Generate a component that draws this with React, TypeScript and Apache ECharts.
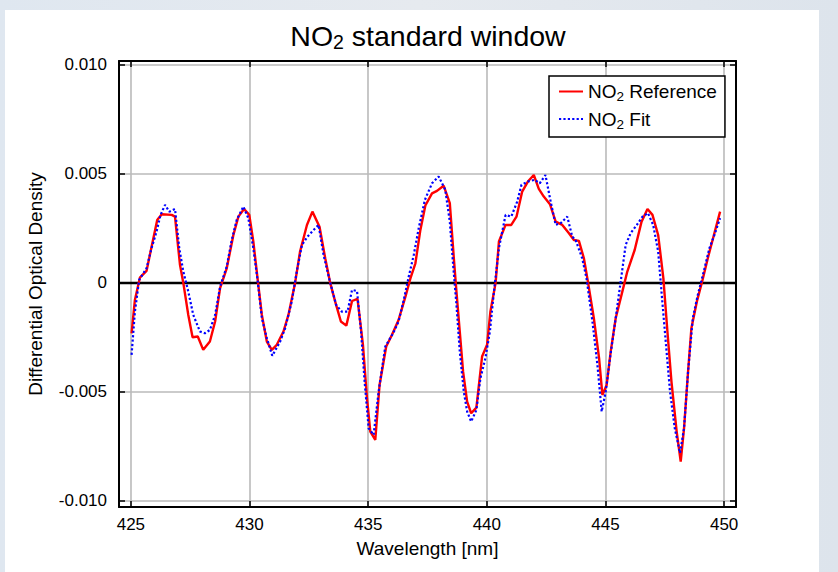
import React, { useEffect, useRef } from "react";
import * as echarts from "echarts";

// NO2 Reference (red, solid)
const refWavelength = [
  425.03, 425.17, 425.38, 425.66, 426.11, 426.3, 426.72, 426.86, 427.07, 427.21,
  427.42, 427.6, 427.82, 428.05, 428.33, 428.55, 428.76, 429.04, 429.32, 429.53,
  429.77, 429.99, 430.16, 430.37, 430.52, 430.73, 430.94, 431.15, 431.43, 431.64,
  431.92, 432.13, 432.42, 432.65, 432.95, 433.19, 433.4, 433.61, 433.85, 434.08,
  434.32, 434.55, 434.78, 434.95, 435.09, 435.3, 435.48, 435.76, 436.0, 436.28,
  436.57, 436.78, 436.99, 437.2, 437.41, 437.69, 437.9, 438.18, 438.44, 438.61,
  438.72, 438.86, 439.0, 439.17, 439.34, 439.56, 439.8, 440.01, 440.15, 440.37,
  440.51, 440.79, 441.03, 441.25, 441.49, 441.73, 441.98, 442.19, 442.4, 442.66,
  442.9, 443.18, 443.46, 443.67, 443.88, 444.09, 444.26, 444.51, 444.73, 444.87,
  445.05, 445.22, 445.43, 445.71, 445.92, 446.23, 446.52, 446.77, 446.98, 447.22,
  447.44, 447.61, 447.78, 448.0, 448.17, 448.31, 448.48, 448.62, 448.85, 449.09,
  449.33, 449.55, 449.83,
];
const refDensity = [
  -0.00231, -0.00078, 0.00024, 0.00055, 0.00289, 0.00315, 0.00312, 0.00304, 0.00083, 0.0,
  -0.00147, -0.00249, -0.00246, -0.00307, -0.00269, -0.00177, -0.00024, 0.00067, 0.0022, 0.00304,
  0.00339, 0.00312, 0.0019, -0.00009, -0.00147, -0.00269, -0.00307, -0.00284, -0.00223, -0.00147,
  0.0, 0.00144, 0.00266, 0.00327, 0.00258, 0.00113, 0.0, -0.00086, -0.00177, -0.00196,
  -0.00083, -0.00073, -0.00284, -0.00529, -0.00682, -0.0072, -0.00468, -0.00292, -0.00239, -0.0017,
  -0.00063, 0.00021, 0.0009, 0.00243, 0.00355, 0.00411, 0.00422, 0.00446, 0.00366, 0.00113,
  -0.0004, -0.00223, -0.00407, -0.00545, -0.00598, -0.00572, -0.00338, -0.00284, -0.00132, 0.0,
  0.0019, 0.00266, 0.00266, 0.00304, 0.00419, 0.00465, 0.00495, 0.00431, 0.00396, 0.00361,
  0.00281, 0.00266, 0.00228, 0.00197, 0.00193, 0.00113, 0.00006, -0.00162, -0.00345, -0.00514,
  -0.00468, -0.00315, -0.00162, -0.0004, 0.00052, 0.00151, 0.00281, 0.00339, 0.00312, 0.0022,
  0.00021, -0.00223, -0.00453, -0.00682, -0.0082, -0.00667, -0.00407, -0.00208, -0.00086, 0.00014,
  0.00121, 0.00212, 0.00327,
];

// NO2 Fit (blue, dotted)
const fitWavelength = [
  425.03, 425.17, 425.35, 425.66, 425.87, 426.08, 426.25, 426.44, 426.62, 426.86,
  427.04, 427.21, 427.42, 427.63, 427.91, 428.12, 428.33, 428.55, 428.76, 429.04,
  429.25, 429.46, 429.74, 429.95, 430.16, 430.33, 430.52, 430.73, 430.96, 431.29,
  431.5, 431.78, 431.99, 432.21, 432.44, 432.7, 432.91, 433.12, 433.37, 433.65,
  433.89, 434.13, 434.32, 434.53, 434.7, 434.85, 435.02, 435.23, 435.44, 435.72,
  436.05, 436.28, 436.5, 436.71, 436.92, 437.13, 437.39, 437.69, 437.97, 438.25,
  438.44, 438.58, 438.72, 438.86, 439.03, 439.17, 439.34, 439.56, 439.73, 439.94,
  440.13, 440.3, 440.51, 440.79, 441.03, 441.28, 441.46, 441.73, 442.01, 442.23,
  442.47, 442.69, 442.9, 443.11, 443.39, 443.6, 443.74, 444.02, 444.2, 444.45,
  444.66, 444.84, 445.01, 445.19, 445.43, 445.64, 445.85, 446.06, 446.32, 446.56,
  446.79, 447.01, 447.22, 447.36, 447.55, 447.72, 447.92, 448.14, 448.31, 448.48,
  448.68, 448.89, 449.14, 449.38, 449.59, 449.83,
];
const fitDensity = [
  -0.0033, -0.00132, 0.00014, 0.00067, 0.00159, 0.00235, 0.00312, 0.00358, 0.00327, 0.00339,
  0.00159, 0.00052, -0.0004, -0.00147, -0.00223, -0.00231, -0.00216, -0.00147, -0.00017, 0.00075,
  0.00197, 0.00289, 0.0035, 0.00297, 0.00159, 0.00021, -0.00162, -0.00254, -0.00334, -0.00269,
  -0.00208, -0.00086, 0.00052, 0.00174, 0.00212, 0.00243, 0.00266, 0.00128, 0.00014, -0.00101,
  -0.00132, -0.00132, -0.00032, -0.00037, -0.00223, -0.00453, -0.00667, -0.00697, -0.00499, -0.00292,
  -0.00231, -0.00177, -0.00078, 0.00029, 0.00128, 0.00251, 0.00381, 0.00457, 0.00488, 0.00427,
  0.00281, 0.00083, -0.00101, -0.00315, -0.00499, -0.0059, -0.00636, -0.00583, -0.00437, -0.00345,
  -0.00223, -0.0004, 0.00159, 0.00312, 0.00304, 0.00373, 0.0045, 0.00465, 0.00473, 0.00457,
  0.00495, 0.00373, 0.00266, 0.00274, 0.00304, 0.00212, 0.00197, 0.00113, 0.00021, -0.00177,
  -0.00376, -0.0059, -0.00499, -0.00345, -0.00162, 0.00006, 0.00174, 0.00228, 0.00266, 0.00304,
  0.0032, 0.00266, 0.00144, -0.0004, -0.00284, -0.00499, -0.00667, -0.0078, -0.00667, -0.00407,
  -0.00162, -0.00055, 0.00052, 0.00159, 0.0022, 0.00297,
];

const xTicks = [425, 430, 435, 440, 445, 450];
const yTicks = [-0.01, -0.005, 0, 0.005, 0.01];
const xRange = [424.5, 450.5];
const yRange = [-0.01028, 0.01018];
const seriesNames = ["NO2 Reference", "NO2 Fit"];
const titleText = "NO2 standard window";
const xName = "Wavelength [nm]";
const yName = "Differential Optical Density";

const FONT = "'Liberation Sans', Arial, Helvetica, sans-serif";

function sub(s: string): string {
  // turn "NO2 ..." into rich text with subscript 2
  return s.replace(/^NO2(.*)$/, (_m, rest) => `{n|NO}{s|2}{n|${rest}}`);
}

function zip(xs: number[], ys: number[]): number[][] {
  return xs.map((x, i) => [x, ys[i]]);
}

export default function App() {
  const ref = useRef<HTMLDivElement>(null);

  useEffect(() => {
    if (!ref.current) return;
    const chart = echarts.init(ref.current, null, { renderer: "svg" });

    const frameLine = { show: true, onZero: false, lineStyle: { color: "#000", width: 2 } };
    const tickStyle = { show: true, inside: true, length: 6, lineStyle: { color: "#000", width: 1.5 } };
    const gridLine = { show: true, lineStyle: { color: "#bababa", width: 1.6, type: "solid" } };

    const option: any = {
      animation: false,
      textStyle: { fontFamily: FONT },
      title: {
        text: sub(titleText),
        left: 428,
        top: 20,
        textAlign: "center",
        padding: 0,
        textStyle: {
          fontFamily: FONT,
          fontWeight: "normal",
          color: "#000",
          rich: {
            n: { fontFamily: FONT, fontSize: 28.5, lineHeight: 32, color: "#000" },
            s: { fontFamily: FONT, fontSize: 19.5, lineHeight: 20, verticalAlign: "bottom", color: "#000" },
          },
        },
      },
      legend: {
        orient: "vertical",
        left: 549,
        top: 76,
        padding: [6, 8, 6, 9],
        itemGap: 6,
        itemWidth: 24,
        itemHeight: 14,
        backgroundColor: "#fff",
        borderColor: "#000",
        borderWidth: 1.5,
        borderRadius: 0,
        data: seriesNames,
        itemStyle: { opacity: 0 },
        formatter: (name: string) => sub(name),
        textStyle: {
          fontFamily: FONT,
          color: "#000",
          rich: {
            n: { fontFamily: FONT, fontSize: 19, lineHeight: 24, color: "#000" },
            s: { fontFamily: FONT, fontSize: 13.5, lineHeight: 14, verticalAlign: "bottom", color: "#000" },
          },
        },
      },
      grid: { left: 119, top: 61, right: 102, bottom: 65, containLabel: false },
      xAxis: [
        {
          type: "value",
          position: "bottom",
          min: xRange[0],
          max: xRange[1],
          name: xName,
          nameLocation: "middle",
          nameGap: 32,
          nameTextStyle: { fontFamily: FONT, fontSize: 19, color: "#000" },
          axisLine: frameLine,
          axisTick: { ...tickStyle, customValues: xTicks },
          axisLabel: {
            customValues: xTicks,
            margin: 9,
            fontFamily: FONT,
            fontSize: 17,
            color: "#000",
            formatter: (v: number) => String(v),
          },
          splitLine: gridLine,
        },
        {
          type: "value",
          position: "top",
          min: xRange[0],
          max: xRange[1],
          axisLine: frameLine,
          axisTick: { ...tickStyle, customValues: xTicks },
          axisLabel: { show: false },
          splitLine: { show: false },
        },
      ],
      yAxis: [
        {
          type: "value",
          position: "left",
          min: yRange[0],
          max: yRange[1],
          name: yName,
          nameLocation: "middle",
          nameGap: 74,
          nameTextStyle: { fontFamily: FONT, fontSize: 19, color: "#000" },
          axisLine: frameLine,
          axisTick: { ...tickStyle, customValues: yTicks },
          axisLabel: {
            customValues: yTicks,
            margin: 12,
            fontFamily: FONT,
            fontSize: 17,
            color: "#000",
            formatter: (v: number) => (Math.abs(v) < 1e-12 ? "0" : v.toFixed(3)),
          },
          splitLine: gridLine,
        },
        {
          type: "value",
          position: "right",
          min: yRange[0],
          max: yRange[1],
          axisLine: frameLine,
          axisTick: { ...tickStyle, customValues: yTicks },
          axisLabel: { show: false },
          splitLine: { show: false },
        },
      ],
      series: [
        {
          name: seriesNames[0],
          type: "line",
          xAxisIndex: 0,
          yAxisIndex: 0,
          data: zip(refWavelength, refDensity),
          symbol: "none",
          showSymbol: false,
          lineStyle: { color: "#ff0000", width: 2.4, type: "solid" },
          itemStyle: { color: "#ff0000" },
          z: 3,
          markLine: {
            silent: true,
            symbol: ["none", "none"],
            label: { show: false },
            lineStyle: { color: "#000", width: 2.4, type: "solid" },
            data: [{ yAxis: 0 }],
            z: 2,
          },
        },
        {
          name: seriesNames[1],
          type: "line",
          xAxisIndex: 0,
          yAxisIndex: 0,
          data: zip(fitWavelength, fitDensity),
          symbol: "none",
          showSymbol: false,
          lineStyle: { color: "#0000ff", width: 2.2, type: [2.2, 2.2] },
          itemStyle: { color: "#0000ff" },
          z: 4,
        },
      ],
    };

    chart.setOption(option);
    return () => chart.dispose();
  }, []);

  return (
    <div
      style={{
        position: "fixed",
        left: 0,
        top: 0,
        width: 838,
        height: 572,
        background: "linear-gradient(90deg, #dfe7f0 0%, #e6eaef 50%, #dde4ec 100%)",
      }}
    >
      <div
        style={{ position: "absolute", left: 5, top: 10, width: 814, height: 562, background: "#ffffff" }}
      />
      <div ref={ref} style={{ position: "absolute", left: 0, top: 0, width: 838, height: 572 }} />
    </div>
  );
}
